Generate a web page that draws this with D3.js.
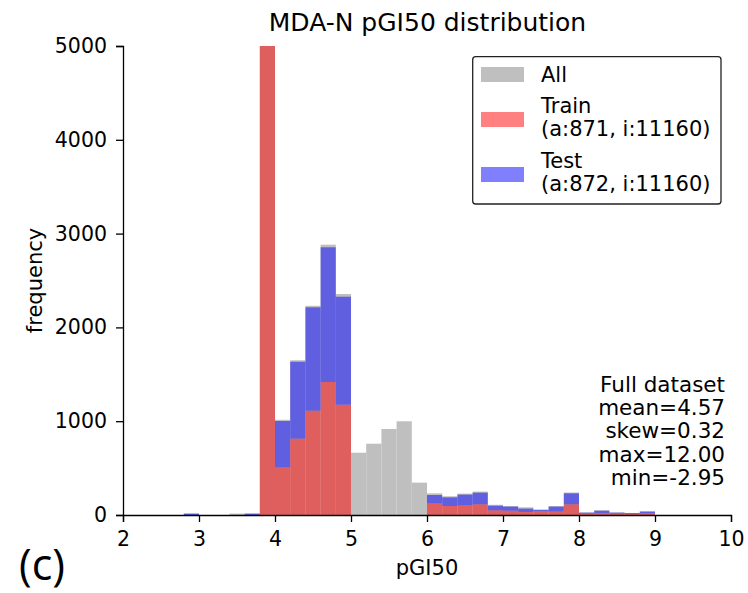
<!DOCTYPE html>
<html>
<head>
<meta charset="utf-8">
<script src="https://cdn.jsdelivr.net/npm/d3@7"></script>
<style>
  body { margin: 0; background: #fff; }
  svg { font-family: "DejaVu Sans", sans-serif; }
</style>
</head>
<body>
<svg id="chart" width="748" height="593"></svg>
<script>
// bin starts, width 0.2, from 2.0 to 9.8
const binStarts = d3.range(40).map(i => +(2 + i * 0.2).toFixed(1));
const allCounts = [
  0, 0, 0, 0, 15, 0, 0, 15, 15, 5600,
  1015, 1650, 2230, 2882, 2356, 664, 760, 917, 999, 345,
  231, 200, 228, 250, 109, 96, 82, 60, 96, 240,
  28, 50, 28, 22, 40, 0, 0, 0, 0, 0
];
const trainCounts = [
  0, 0, 0, 0, 0, 0, 0, 0, 0, 5600,
  508, 814, 1112, 1418, 1176, 0, 0, 0, 0, 0,
  124, 96, 103, 114, 50, 46, 32, 39, 36, 114,
  14, 18, 14, 10, 18, 0, 0, 0, 0, 0
];
const testCounts = [
  0, 0, 0, 0, 15, 0, 0, 0, 15, 0,
  494, 820, 1102, 1436, 1151, 0, 0, 0, 0, 0,
  89, 92, 114, 124, 49, 43, 36, 14, 53, 117,
  11, 28, 11, 10, 18, 0, 0, 0, 0, 0
];
const xTicks = [2, 3, 4, 5, 6, 7, 8, 9, 10];
const yTicks = [0, 1000, 2000, 3000, 4000, 5000];
const statsLines = ["Full dataset", "mean=4.57", "skew=0.32", "max=12.00", "min=-2.95"];
const legendItems = [
  { lines: ["All"], color: "#bfbfbf" },
  { lines: ["Train", "(a:871, i:11160)"], color: "#ff8080" },
  { lines: ["Test", "(a:872, i:11160)"], color: "#8080ff" }
];
const binWidth = 0.2;

const svg = d3.select("#chart");
const mLeft = 123, mRight = 731, mTop = 46, mBottom = 515;
const x = d3.scaleLinear().domain([2, 10]).range([mLeft, mRight]);
const y = d3.scaleLinear().domain([0, 5000]).range([mBottom, mTop]);

svg.append("defs").append("clipPath").attr("id", "clip")
  .append("rect").attr("x", mLeft).attr("y", mTop).attr("width", mRight - mLeft).attr("height", mBottom - mTop);

const g = svg.append("g").attr("clip-path", "url(#clip)");

// All (grey)
g.selectAll("rect.all").data(binStarts).join("rect")
  .attr("class", "all")
  .attr("x", d => x(d))
  .attr("width", d => x(d + binWidth) - x(d))
  .attr("y", (d, i) => y(allCounts[i]))
  .attr("height", (d, i) => y(0) - y(allCounts[i]))
  .attr("fill", "#bfbfbf");

// Train (red, alpha 0.5)
g.selectAll("rect.train").data(binStarts).join("rect")
  .attr("class", "train")
  .attr("x", d => x(d))
  .attr("width", d => x(d + binWidth) - x(d))
  .attr("y", (d, i) => y(trainCounts[i]))
  .attr("height", (d, i) => y(0) - y(trainCounts[i]))
  .attr("fill", "#ff0000").attr("fill-opacity", 0.5);

// Test stacked on train (blue, alpha 0.5)
g.selectAll("rect.test").data(binStarts).join("rect")
  .attr("class", "test")
  .attr("x", d => x(d))
  .attr("width", d => x(d + binWidth) - x(d))
  .attr("y", (d, i) => y(trainCounts[i] + testCounts[i]))
  .attr("height", (d, i) => y(trainCounts[i]) - y(trainCounts[i] + testCounts[i]))
  .attr("fill", "#0000ff").attr("fill-opacity", 0.5);

// Axes
const xAxis = svg.append("g").attr("transform", `translate(0,${mBottom})`)
  .call(d3.axisBottom(x).tickValues(xTicks).tickFormat(d3.format("d")).tickSizeOuter(0).tickSize(7).tickPadding(9));
const yAxis = svg.append("g").attr("transform", `translate(${mLeft},0)`)
  .call(d3.axisLeft(y).tickValues(yTicks).tickFormat(d3.format("d")).tickSizeOuter(0).tickSize(7).tickPadding(9));
[xAxis, yAxis].forEach(a => {
  a.selectAll("path.domain").attr("stroke", "#000").attr("stroke-width", 1.3);
  a.selectAll(".tick line").attr("stroke", "#000").attr("stroke-width", 1.3);
  a.selectAll(".tick text").attr("font-size", 20.5).attr("fill", "#000")
    .attr("font-family", "DejaVu Sans, sans-serif");
});

// Titles
svg.append("text").attr("x", 427.5).attr("y", 31).attr("text-anchor", "middle")
  .attr("font-size", 25).text("MDA-N pGI50 distribution");
svg.append("text").attr("x", 427).attr("y", 575).attr("text-anchor", "middle")
  .attr("font-size", 21).text("pGI50");
svg.append("text").attr("transform", `translate(41.5,${(mTop + mBottom) / 2}) rotate(-90)`)
  .attr("text-anchor", "middle").attr("font-size", 21).text("frequency");
svg.append("text").attr("x", 19).attr("y", 580).attr("font-size", 43)
  .attr("font-family", "Open Sans, Noto Sans, sans-serif").text("(c)");

// Stats text
svg.append("g").selectAll("text").data(statsLines).join("text")
  .attr("x", 725).attr("y", (d, i) => 391.7 + i * 23.3)
  .attr("text-anchor", "end").attr("font-size", 21.5).text(d => d);

// Legend
const lg = svg.append("g");
lg.append("rect").attr("x", 472.7).attr("y", 56.7).attr("width", 248.3).attr("height", 147.3)
  .attr("rx", 3).attr("fill", "#fff").attr("stroke", "#222").attr("stroke-width", 1.3);
const patchY = [74.5, 119.5, 174.5];
const textBase = [[81.5], [112.5, 135.5], [167.5, 190.5]];
legendItems.forEach((it, i) => {
  lg.append("rect").attr("x", 481).attr("y", patchY[i] - 7.5).attr("width", 43).attr("height", 15).attr("fill", it.color);
  it.lines.forEach((ln, j) => {
    lg.append("text").attr("x", 541).attr("y", textBase[i][j]).attr("font-size", 21).text(ln);
  });
});
</script>
</body>
</html>
